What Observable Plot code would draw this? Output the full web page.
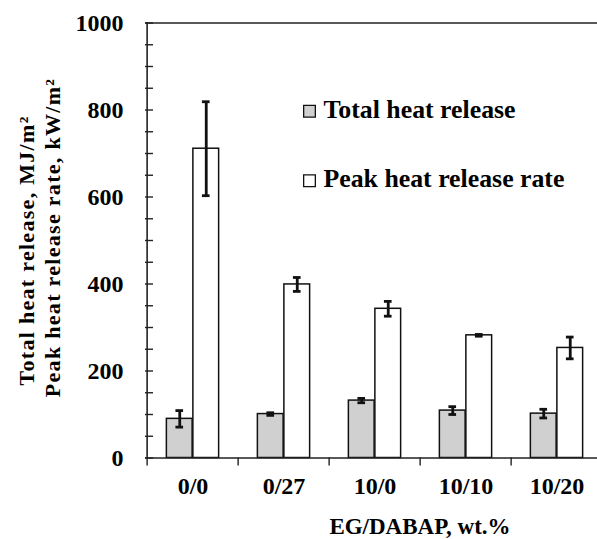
<!DOCTYPE html>
<html><head><meta charset="utf-8">
<script src="https://cdn.jsdelivr.net/npm/d3@7"></script>
<script src="https://cdn.jsdelivr.net/npm/@observablehq/plot@0.6"></script>
<style>body{margin:0;background:#fff}</style>
</head><body><div id="chart"></div>
<script>
const categories = ["0/0", "0/27", "10/0", "10/10", "10/20"];
const seriesNames = ["Total heat release", "Peak heat release rate"];
const thrValues = [90, 101, 132, 109, 102];
const thrErrors = [19, 3, 5, 9, 10];
const phrrValues = [711, 399, 343, 282, 253];
const phrrErrors = [108, 16, 17, 2, 25];
const yTicks = [0, 200, 400, 600, 800, 1000];
const yMinorTicks = [0,50,100,150,200,250,300,350,400,450,500,550,600,650,700,750,800,850,900,950,1000];
const xTitle = "EG/DABAP, wt.%";
const yTitleLines = ["Total heat release, MJ/m²", "Peak heat release rate, kW/m²"];

const W = 597, H = 539;
const mL = 145, mT = 22.5, mB = 81.5;
const bw = 91.75, barW = 26.5, capW = 8.4;
const ink = "#111";
const fills = ["#d0d0d0", "white"];

const seriesRows = [
  categories.map((c, i) => ({cat: c, value: thrValues[i], err: thrErrors[i]})),
  categories.map((c, i) => ({cat: c, value: phrrValues[i], err: phrrErrors[i]}))
];

const marks = [];
seriesRows.forEach((rows, s) => {
  const off = s ? barW / 2 : -barW / 2;
  marks.push(Plot.barY(rows, {
    x: "cat", y: "value", fill: fills[s], stroke: ink, strokeWidth: 1.5,
    insetLeft: s ? bw / 2 : bw / 2 - barW,
    insetRight: s ? bw / 2 - barW : bw / 2
  }));
  marks.push(Plot.ruleX(rows, {
    x: "cat", y1: d => d.value - d.err, y2: d => d.value + d.err,
    dx: off, stroke: ink, strokeWidth: 2.8
  }));
  for (const sign of [-1, 1]) {
    marks.push(Plot.tickY(rows, {
      x: "cat", y: d => d.value + sign * d.err, stroke: ink, strokeWidth: 2.8,
      dx: off, insetLeft: bw / 2 - capW / 2, insetRight: bw / 2 - capW / 2
    }));
  }
});

// legend
const legendPos = [{sq: 88.3, tx: 94.8}, {sq: 157.8, tx: 163.5}];
seriesNames.forEach((name, s) => {
  marks.push(Plot.dot([name], {
    frameAnchor: "top-left", dx: 164, dy: legendPos[s].sq,
    symbol: "square", r: 6.6, fill: fills[s], stroke: ink, strokeWidth: 1.3
  }));
  marks.push(Plot.text([name], {
    frameAnchor: "top-left", dx: 178, dy: legendPos[s].tx, text: d => d,
    textAnchor: "start", lineAnchor: "bottom", fontSize: 25.8, fontWeight: "bold", fill: "black"
  }));
});

// y title lines
const yTitlePos = [{dx: 33.3 - mL, dy: 385 - mT}, {dx: 59.5 - mL, dy: 396.7 - mT}];
yTitleLines.forEach((line, k) => {
  marks.push(Plot.text([line], {
    frameAnchor: "top-left", dx: yTitlePos[k].dx, dy: yTitlePos[k].dy, text: d => d,
    rotate: -90, textAnchor: "start", lineAnchor: "bottom",
    fontSize: 22, fontWeight: "bold", fill: "black"
  }));
});

// x title
marks.push(Plot.text([xTitle], {
  frameAnchor: "bottom", dx: 419.5 - (mL + W) / 2, dy: 533 - (H - mB), text: d => d,
  textAnchor: "middle", lineAnchor: "bottom", fontSize: 23, fontWeight: "bold", fill: "black"
}));

// frame lines
marks.push(Plot.ruleY([0, 1000], {stroke: "#222", strokeWidth: 1.6}));
marks.push(Plot.ruleX([categories[0]], {dx: -bw / 2, y1: 0, y2: 1000, stroke: "#222", strokeWidth: 1.6}));

// axes
marks.push(Plot.axisY({ticks: yMinorTicks, tickSize: 8, dx: 8, text: null, label: null, stroke: "#222", strokeWidth: 1.4}));
marks.push(Plot.axisY({ticks: yTicks, tickSize: 0, tickPadding: 22, tickFormat: d => String(d), fontSize: 24, fontWeight: "bold", label: null}));
marks.push(Plot.axisX({tickSize: 8, dx: -bw / 2, text: null, stroke: "#222", strokeWidth: 1.4, label: null}));
marks.push(Plot.axisX({tickSize: 0, tickPadding: 19, fontSize: 24, fontWeight: "bold", label: null}));

const svg = Plot.plot({
  width: W, height: H,
  marginLeft: mL, marginRight: 0, marginTop: mT, marginBottom: mB,
  style: {fontFamily: "Liberation Serif", fontWeight: "bold", fontSize: "24px", color: "black", background: "white"},
  x: {domain: categories, range: [mL, mL + 5 * bw], padding: 0, axis: null},
  y: {domain: [0, 1000], axis: null},
  marks
});
d3.select(svg).selectAll("text")
  .filter(function () { return yTitleLines.includes(this.textContent); })
  .attr("letter-spacing", "1.3px");
document.getElementById("chart").appendChild(svg);
</script>
</body></html>
